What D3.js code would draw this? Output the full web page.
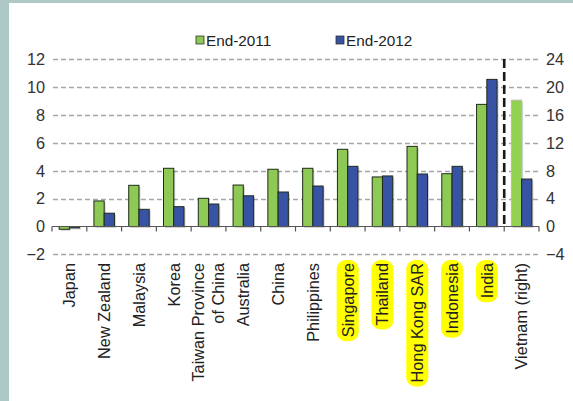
<!DOCTYPE html>
<html><head><meta charset="utf-8">
<script src="https://cdn.jsdelivr.net/npm/d3@7"></script>
<style>
html,body{margin:0;padding:0;background:#fff;}
svg{display:block;font-family:"Liberation Sans",Arial,sans-serif;}
</style></head>
<body>
<svg id="chart" width="573" height="401"></svg>
<script>
const categories = ["Japan","New Zealand","Malaysia","Korea","Taiwan Province|of China","Australia","China","Philippines","Singapore","Thailand","Hong Kong SAR","Indonesia","India","Vietnam (right)"];
const highlighted = ["Singapore","Thailand","Hong Kong SAR","Indonesia","India"];
const seriesNames = ["End-2011","End-2012"];
const end2011 = [-0.2,1.83,2.95,4.17,2.02,2.97,4.1,4.17,5.53,3.55,5.74,3.78,8.75,18.1];
const end2012 = [-0.1,0.95,1.23,1.42,1.61,2.2,2.47,2.9,4.31,3.62,3.76,4.31,10.54,6.8];
const leftTicks = [-2,0,2,4,6,8,10,12];
const rightTicks = [-4,0,4,8,12,16,20,24];
const rightAxisCategory = "Vietnam (right)";

const colors = ["#8fc955","#3853a3"];
const svg = d3.select("#chart");
svg.append("rect").attr("x",0).attr("y",0).attr("width",9).attr("height",401).attr("fill","#adc8c7");
svg.append("rect").attr("x",0).attr("y",0).attr("width",573).attr("height",3).attr("fill","#adc8c7");

const L = 52, R = 539;
const x = d3.scaleBand().domain(categories).range([L,R]).paddingInner(0).paddingOuter(0);
const yL = d3.scaleLinear().domain([-2,12]).range([254.4,59]);
const yR = d3.scaleLinear().domain([-4,24]).range([254.4,59]);
const sub = d3.scaleBand().domain(seriesNames).range([0,20.5]);
const barOff = (x.bandwidth()-20.5)/2;
const FS = 16.3;

// gridlines
svg.append("g").selectAll("line").data(leftTicks.filter(d=>d!==0)).join("line")
  .attr("x1",L+1).attr("x2",R).attr("y1",d=>Math.round(yL(d))+0.5).attr("y2",d=>Math.round(yL(d))+0.5)
  .attr("stroke","#a6a6a6").attr("stroke-width",1.3).attr("stroke-dasharray","5,3");

// bars
const gBars = svg.append("g");
categories.forEach((c,i)=>{
  const useR = c===rightAxisCategory;
  const ys = useR ? yR : yL;
  [end2011[i],end2012[i]].forEach((v,j)=>{
    const bx = x(c)+barOff+sub(seriesNames[j]);
    const y0 = ys(0), y1 = ys(v);
    const top = Math.min(y0,y1), h = Math.abs(y1-y0);
    gBars.append("rect").attr("x",bx+1.5).attr("y",top+1.5).attr("width",sub.bandwidth()).attr("height",h)
      .attr("fill","rgba(0,0,0,0.18)");
    const light = useR && j===0;
    gBars.append("rect").attr("x",bx).attr("y",top).attr("width",sub.bandwidth()).attr("height",h)
      .attr("fill", light ? "#92d050" : colors[j])
      .attr("stroke", light ? "#b8b8b8" : "#1f2a1a").attr("stroke-width",1);
  });
});

// zero axis
const y0p = Math.round(yL(0))+0.5;
svg.append("line").attr("x1",L).attr("x2",R).attr("y1",y0p).attr("y2",y0p).attr("stroke","#555").attr("stroke-width",1.2);
svg.append("g").selectAll("line").data(d3.range(categories.length+1)).join("line")
  .attr("x1",d=>L+d*x.step()).attr("x2",d=>L+d*x.step()).attr("y1",y0p).attr("y2",y0p+5)
  .attr("stroke","#555").attr("stroke-width",1.2);

// divider
const dx = x(rightAxisCategory);
svg.append("line").attr("x1",dx).attr("x2",dx).attr("y1",yR(24)).attr("y2",yR(0))
  .attr("stroke","#1a1a1a").attr("stroke-width",2.6).attr("stroke-dasharray","9,4");

// tick labels
svg.append("g").selectAll("text").data(leftTicks).join("text")
  .attr("x",45).attr("y",d=>yL(d)).attr("dy","0.36em").attr("text-anchor","end")
  .attr("font-size",FS).attr("fill","#333").text(d=>d<0?"\u22122":d);
svg.append("g").selectAll("text").data(rightTicks).join("text")
  .attr("x",546).attr("y",d=>yR(d)).attr("dy","0.36em").attr("text-anchor","start")
  .attr("font-size",FS).attr("fill","#333").text(d=>d<0?"\u2212"+Math.abs(d):d);

// x labels
const gx = svg.append("g");
categories.forEach(c=>{
  const cx = x(c)+x.bandwidth()/2;
  const lines = c.split("|");
  const top = 263;
  const g = gx.append("g").attr("transform",`translate(${cx},${top}) rotate(-90)`);
  const texts = [];
  lines.forEach((ln,k)=>{
    const off = (k-(lines.length-1)/2)*20;
    texts.push(g.append("text").attr("x",0).attr("y",off).attr("dy","0.36em").attr("text-anchor","end")
      .attr("font-size",FS).attr("fill","#222").text(ln));
  });
  if(highlighted.includes(c)){
    const w = texts[0].node().getComputedTextLength();
    g.insert("rect","text").attr("x",-w-4).attr("y",-11).attr("width",w+7).attr("height",22)
      .attr("rx",9).attr("ry",9).attr("fill","#ffff00");
  }
});

// legend
const lg = svg.append("g");
const legX = [196,336];
seriesNames.forEach((s,j)=>{
  lg.append("rect").attr("x",legX[j]).attr("y",36).attr("width",8).attr("height",8)
    .attr("fill",colors[j]).attr("stroke","#333").attr("stroke-width",0.8);
  lg.append("text").attr("x",legX[j]+10).attr("y",40).attr("dy","0.36em").attr("font-size",15.3)
    .attr("fill","#222").text(s);
});
</script>
</body></html>
